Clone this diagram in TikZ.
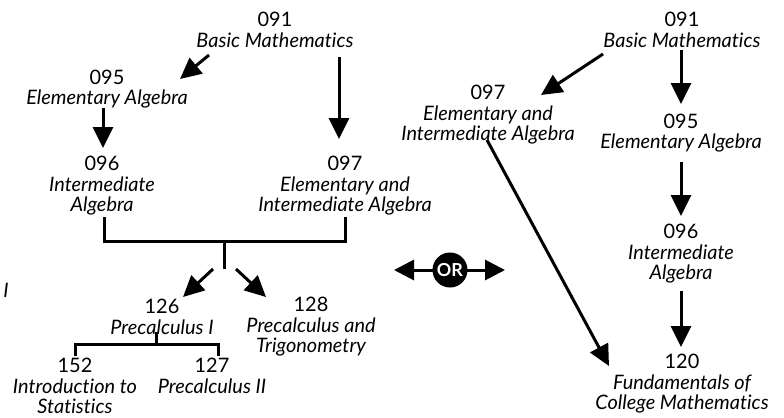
\documentclass[tikz,border=0pt]{standalone}
\usepackage{fontspec}
\setmainfont{Lato}[Ligatures=NoCommon]
\usetikzlibrary{arrows.meta}
\begin{document}
\begin{tikzpicture}[x=1bp,y=-1bp,
  course/.style={align=center,inner sep=0pt,font=\fontsize{20}{20.5}\selectfont},
  conn/.style={line width=3bp,-{Triangle[length=21bp,width=20bp]}},
  orarrow/.style={line width=3bp,{Triangle[length=20bp,width=20bp]}-{Triangle[length=20bp,width=20bp]}},
  orbadge/.style={circle,fill=black,minimum size=35bp,inner sep=0pt,text=white,
      font=\fontsize{18}{18}\selectfont\bfseries},
  bar/.style={line width=3bp,line join=miter}]
\useasboundingbox (0,0) rectangle (784,417);
% ---------- left tree ----------
\node[course] (L091) at (275,30) {091\\{\itshape Basic Mathematics}};
\node[course] (L095) at (107,89) {095\\{\itshape Elementary Algebra}};
\node[course] (L096) at (102,186) {096\\{\itshape Intermediate}\\{\itshape Algebra}};
\node[course] (L097) at (345,186) {097\\{\itshape Elementary and}\\{\itshape Intermediate Algebra}};
\node[course] (L126) at (162,317) {126\\{\itshape Precalculus I}};
\node[course] (L128) at (311,327) {128\\{\itshape Precalculus and}\\{\itshape Trigonometry}};
\node[course] (L152) at (75,386) {152\\{\itshape Introduction to}\\{\itshape Statistics}};
\node[course] (L127) at (212,376) {127\\{\itshape Precalculus II}};
\node[course] (stray) at (6,290) {\itshape I};
% ---------- right tree ----------
\node[course] (R091) at (682,30) {091\\{\itshape Basic Mathematics}};
\node[course] (R097) at (488,115) {097\\{\itshape Elementary and}\\{\itshape Intermediate Algebra}};
\node[course] (R095) at (681,133) {095\\{\itshape Elementary Algebra}};
\node[course] (R096) at (681,254) {096\\{\itshape Intermediate}\\{\itshape Algebra}};
\node[course] (R120) at (682,384) {120\\{\itshape Fundamentals of}\\{\itshape College Mathematics}};
% ---------- OR ----------
\coordinate (ORl) at (394,270);
\coordinate (ORr) at (505,270);
\draw[orarrow] (ORl) -- (ORr);
\node[orbadge] (OR) at (450,270) {OR};
% ---------- left connectors ----------
\coordinate (a1s) at (209,55);  \coordinate (a1e) at (180,79);
\draw[conn] (a1s) -- (a1e);
\coordinate (a2s) at (103,108); \coordinate (a2e) at (103,148);
\draw[conn] (a2s) -- (a2e);
\coordinate (a3s) at (339,57);  \coordinate (a3e) at (339,139);
\draw[conn] (a3s) -- (a3e);
\coordinate (b1) at (104,217); \coordinate (b2) at (345,241); \coordinate (b3) at (345,217);
\draw[bar] (b1) |- (b2) -- (b3);
\coordinate (st1) at (224,241); \coordinate (st2) at (224,269);
\draw[bar] (st1) -- (st2);
\coordinate (a4s) at (213,269); \coordinate (a4e) at (183,297);
\draw[conn] (a4s) -- (a4e);
\coordinate (a5s) at (236,269); \coordinate (a5e) at (266,297);
\draw[conn] (a5s) -- (a5e);
\coordinate (c0) at (156,332); \coordinate (c1) at (156,344);
\draw[bar] (c0) -- (c1);
\coordinate (c2) at (75,356); \coordinate (c3) at (218,344); \coordinate (c4) at (218,356);
\draw[bar] (c2) |- (c3) -- (c4);
% ---------- right connectors ----------
\coordinate (r1s) at (603,54);  \coordinate (r1e) at (541,95);
\draw[conn] (r1s) -- (r1e);
\coordinate (r2s) at (681,50);  \coordinate (r2e) at (681,104);
\draw[conn] (r2s) -- (r2e);
\coordinate (r3s) at (681,162); \coordinate (r3e) at (681,216);
\draw[conn] (r3s) -- (r3e);
\coordinate (r4s) at (681,291); \coordinate (r4e) at (681,347);
\draw[conn] (r4s) -- (r4e);
\coordinate (r5s) at (487,140); \coordinate (r5e) at (609,366);
\draw[conn] (r5s) -- (r5e);
\end{tikzpicture}
\end{document}
